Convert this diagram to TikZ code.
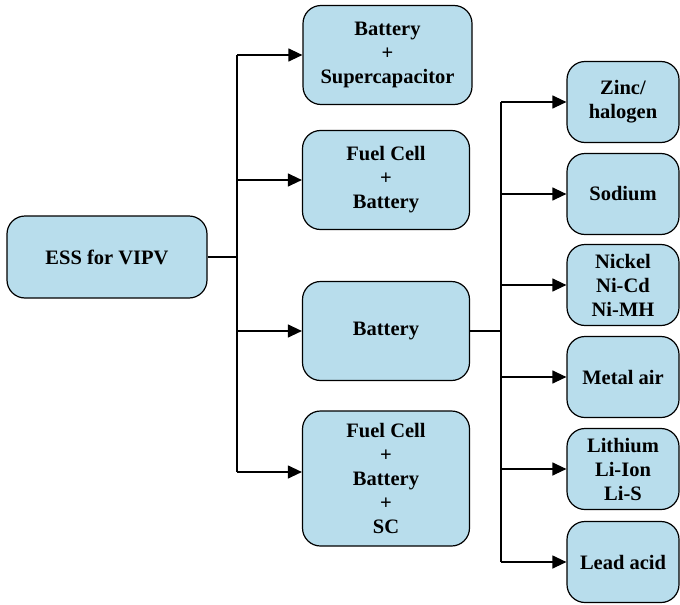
\documentclass[tikz,border=0pt]{standalone}
\usepackage{fontspec}
\setmainfont{Liberation Serif}
\usetikzlibrary{positioning,arrows.meta}
\definecolor{boxfill}{HTML}{B8DDEC}

\tikzset{
  essbox/.style={draw=black,line width=1.2pt,fill=boxfill,rounded corners=18pt,
    align=center,inner sep=0pt,font=\fontsize{20.5}{24}\selectfont\bfseries},
  link/.style={line width=1.2pt},
  feed/.style={line width=1.2pt,-{Triangle[length=14pt,width=13pt]}}
}

\begin{document}
\begin{tikzpicture}[x=1pt,y=-1pt]
\useasboundingbox (0,0) rectangle (680,605);

% left column
\node[essbox,minimum width=200pt,minimum height=82pt] (ess) at (107,257) {ESS for VIPV};

% hybrid options
\node[essbox,minimum width=169pt,minimum height=99pt] (batsc) at (387.5,55) {Battery\\+\\Supercapacitor};
\node[essbox,minimum width=167pt,minimum height=99pt] (fcbat) at (386,180) {Fuel Cell\\+\\Battery};
\node[essbox,minimum width=167pt,minimum height=99pt] (bat) at (386,331) {Battery};
\node[essbox,minimum width=167pt,minimum height=135pt] (fcbatsc) at (386,478.5) {Fuel Cell\\+\\Battery\\+\\SC};

% battery chemistries
\node[essbox,minimum width=112pt,minimum height=81pt] (zinc) at (623,102) {Zinc/\\halogen};
\node[essbox,minimum width=112pt,minimum height=81pt] (sodium) at (623,194) {Sodium};
\node[essbox,minimum width=112pt,minimum height=81pt] (nickel) at (623,285) {Nickel\\Ni-Cd\\Ni-MH};
\node[essbox,minimum width=112pt,minimum height=81pt] (metal) at (623,377) {Metal air};
\node[essbox,minimum width=112pt,minimum height=81pt] (lithium) at (623,469) {Lithium\\Li-Ion\\Li-S};
\node[essbox,minimum width=112pt,minimum height=81pt] (lead) at (623,562) {Lead acid};

% left trunk
\coordinate (trunkL) at (237,257);
\coordinate (trunkLend) at (237,472);
\draw[link] (ess.east) -- (trunkL);
\draw[link] (trunkL |- batsc.west) -- (trunkLend);
\draw[feed] (trunkL |- batsc.west) -- (batsc.west);
\draw[feed] (trunkL |- fcbat.west) -- (fcbat.west);
\draw[feed] (trunkL |- bat.west) -- (bat.west);
\draw[feed] (trunkLend) -- (trunkLend -| fcbatsc.west);

% right trunk
\coordinate (trunkR) at (501,331);
\draw[link] (bat.east) -- (trunkR);
\draw[link] (trunkR |- zinc.west) -- (trunkR |- lead.west);
\draw[feed] (trunkR |- zinc.west) -- (zinc.west);
\draw[feed] (trunkR |- sodium.west) -- (sodium.west);
\draw[feed] (trunkR |- nickel.west) -- (nickel.west);
\draw[feed] (trunkR |- metal.west) -- (metal.west);
\draw[feed] (trunkR |- lithium.west) -- (lithium.west);
\draw[feed] (trunkR |- lead.west) -- (lead.west);
\end{tikzpicture}
\end{document}
